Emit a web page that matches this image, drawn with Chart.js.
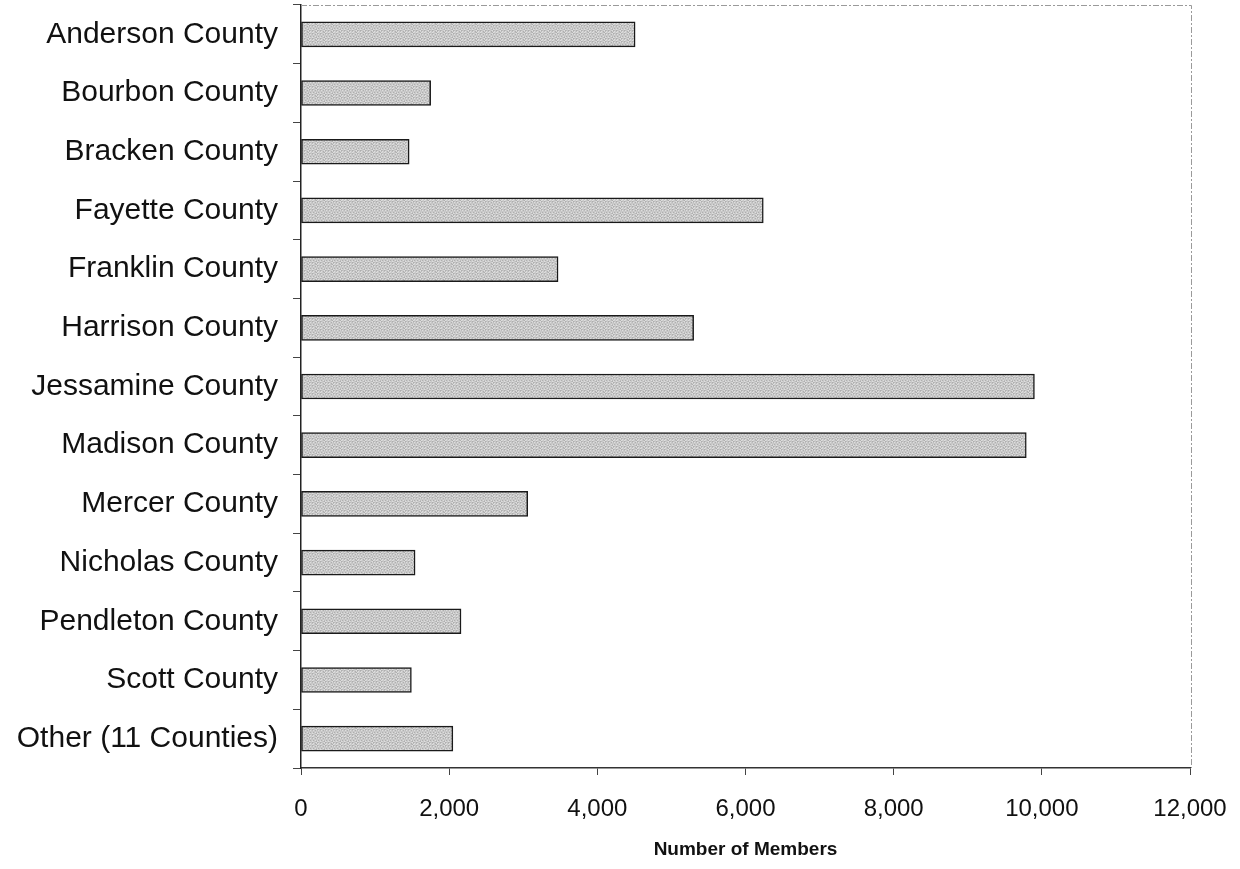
<!DOCTYPE html>
<html>
<head>
<meta charset="utf-8">
<script src="https://cdn.jsdelivr.net/npm/chart.js@4/dist/chart.umd.min.js"></script>
<style>
  html, body { margin: 0; padding: 0; background: #fff; }
  #wrap { width: 1240px; height: 869px; }
</style>
</head>
<body>
<div id="wrap"><canvas id="c" width="1240" height="869"></canvas></div>
<script>
// Membership by county
const counties = [
  'Anderson County', 'Bourbon County', 'Bracken County', 'Fayette County',
  'Franklin County', 'Harrison County', 'Jessamine County', 'Madison County',
  'Mercer County', 'Nicholas County', 'Pendleton County', 'Scott County',
  'Other (11 Counties)'
];
const members = [4510, 1750, 1460, 6240, 3470, 5300, 9900, 9790, 3060, 1540, 2160, 1490, 2050];
const xTickValues = [0, 2000, 4000, 6000, 8000, 10000, 12000];
const xTitle = 'Number of Members';

// stippled grey fill for the bars
function stipple() {
  const p = document.createElement('canvas');
  p.width = 8; p.height = 8;
  const g = p.getContext('2d');
  const shades = ['#dedede', '#bcbcbc', '#d2d2d2', '#aeaeae', '#c8c8c8'];
  for (let y = 0; y < 8; y++) {
    for (let x = 0; x < 8; x++) {
      g.fillStyle = shades[(x * 7 + y * 13 + x * y) % 5];
      g.fillRect(x, y, 1, 1);
    }
  }
  return g.createPattern(p, 'repeat');
}

// light frame on the top and right of the plot area
const frame = {
  id: 'frame',
  beforeDatasetsDraw(chart) {
    const { ctx, chartArea: a } = chart;
    ctx.save();
    ctx.strokeStyle = '#9a9a9a';
    ctx.lineWidth = 1;
    ctx.setLineDash([6, 2, 2, 2]);
    ctx.beginPath();
    ctx.moveTo(a.left, a.top + 0.5);
    ctx.lineTo(a.right + 1.5, a.top + 0.5);
    ctx.lineTo(a.right + 1.5, a.bottom);
    ctx.stroke();
    ctx.restore();
  }
};

Chart.defaults.font.family = '"Liberation Sans", Arial, sans-serif';
Chart.defaults.color = '#111';

new Chart(document.getElementById('c'), {
  type: 'bar',
  data: {
    labels: counties,
    datasets: [{
      data: members,
      backgroundColor: stipple(),
      borderColor: '#1a1a1a',
      borderWidth: 1.5,
      borderSkipped: false,
      barThickness: 25
    }]
  },
  options: {
    indexAxis: 'y',
    responsive: false,
    animation: false,
    layout: { padding: { left: 10, top: 5, right: 50, bottom: 0 } },
    plugins: { legend: { display: false }, tooltip: { enabled: false } },
    scales: {
      x: {
        min: 0,
        max: 12000,
        afterBuildTicks: s => { s.ticks = xTickValues.map(v => ({ value: v })); },
        afterFit: s => { s.height = 101; s.paddingLeft = 0; s.paddingRight = 0; },
        border: { display: true, color: '#333', width: 1.5 },
        grid: { drawOnChartArea: false, drawTicks: true, tickLength: 7, color: '#444' },
        ticks: {
          padding: 20,
          font: { size: 24 },
          maxRotation: 0,
          callback: v => v.toLocaleString('en-US')
        },
        title: {
          display: true,
          text: xTitle,
          font: { size: 19, weight: 'bold' },
          padding: { top: 0, bottom: 8 }
        }
      },
      y: {
        afterFit: s => { s.width = 291; s.paddingTop = 0; s.paddingBottom = 0; },
        border: { display: true, color: '#222', width: 1.5 },
        grid: { drawOnChartArea: false, drawTicks: true, tickLength: 8, color: '#444', offset: true },
        ticks: { padding: 15, font: { size: 30 } }
      }
    }
  },
  plugins: [frame]
});
</script>
</body>
</html>
